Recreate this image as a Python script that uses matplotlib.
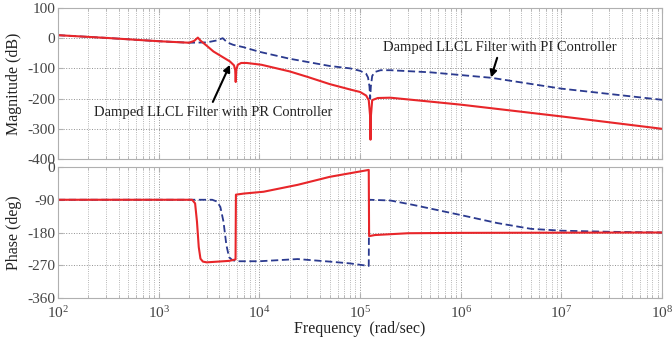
import matplotlib
matplotlib.use("Agg")
import matplotlib.pyplot as plt
from matplotlib.ticker import LogLocator, NullFormatter, MultipleLocator

# Magnitude curves (rad/s, dB)
f_mag_pr = [1e2, 3e2, 1e3, 2e3, 2.25e3, 2.45e3, 2.6e3, 3e3, 3.5e3, 4.2e3, 5.1e3, 5.6e3,
            5.75e3, 5.82e3, 5.9e3, 6.1e3, 6.6e3, 7.5e3, 1.05e4, 2e4, 3e4, 5e4, 8e4, 1e5,
            1.15e5, 1.22e5, 1.26e5, 1.27e5, 1.28e5, 1.32e5, 1.5e5, 2e5, 5e5, 1e6, 1e7, 1e8]
mag_pr = [10, 1, -10, -15, -9, 2, -8, -25, -44, -60, -77, -90,
          -105, -145, -105, -88, -82, -82, -88, -110, -128, -152, -170, -178,
          -190, -205, -260, -336, -260, -205, -198, -197, -210, -220, -259, -300]

f_mag_pi = [1e2, 3e2, 1e3, 2e3, 3e3, 3.7e3, 4.33e3, 4.8e3, 5.5e3, 7e3, 1e4, 2e4, 5e4,
            8e4, 1e5, 1.15e5, 1.2e5, 1.24e5, 1.26e5, 1.28e5, 1.32e5, 1.4e5, 1.6e5,
            2e5, 5e5, 1e6, 2e6, 1e7, 1e8]
mag_pi = [10, 1, -10, -15, -14, -8, 0, -14, -22, -30, -45, -68, -92,
          -100, -108, -118, -130, -160, -200, -160, -125, -112, -106,
          -106, -113, -122, -131, -167, -204]

# Phase curves (rad/s, deg)
f_ph_pr = [1e2, 2.15e3, 2.3e3, 2.4e3, 2.5e3, 2.6e3, 2.75e3, 3e3, 5e3, 5.8e3, 5.85e3,
           7e3, 1.1e4, 2.4e4, 5e4, 1.22e5, 1.23e5, 1.4e5, 3e5, 1e6, 1e8]
ph_pr = [-90, -90, -100, -150, -220, -252, -260, -262, -258, -254, -76,
         -73, -68, -49, -27, -8, -190, -187, -182, -181, -180]

f_ph_pi = [1e2, 3.4e3, 3.8e3, 4.1e3, 4.4e3, 4.7e3, 5e3, 5.4e3, 6e3, 1e4, 2.4e4, 5e4,
           8e4, 1.22e5, 1.23e5, 2e5, 3.35e5, 1e6, 2.3e6, 5e6, 1e7, 3e7, 1e8]
ph_pi = [-90, -90, -95, -110, -150, -214, -248, -256, -259, -259, -253, -260,
         -265, -272, -90, -92, -104, -132, -154, -170, -175, -178, -180]

red = "#e8262a"
blue = "#2b3a8f"

plt.rcParams["font.family"] = ["Liberation Serif", "DejaVu Serif"]
plt.rcParams["mathtext.fontset"] = "custom"
plt.rcParams["mathtext.rm"] = "Liberation Serif"
plt.rcParams["axes.unicode_minus"] = False

fig = plt.figure(figsize=(6.72, 3.43), dpi=100)
ax1 = fig.add_axes([0.0863, 0.5364, 0.899, 0.4403])
ax2 = fig.add_axes([0.0863, 0.1312, 0.899, 0.3819])

ax1.semilogx(f_mag_pi, mag_pi, color=blue, lw=1.3, ls=(0, (4, 2)))
ax1.semilogx(f_mag_pr, mag_pr, color=red, lw=1.5)
ax2.semilogx(f_ph_pi, ph_pi, color=blue, lw=1.3, ls=(0, (4, 2)))
ax2.semilogx(f_ph_pr, ph_pr, color=red, lw=1.5)

ax1.set_ylim(-400, 100)
ax1.yaxis.set_major_locator(MultipleLocator(100))
ax2.set_ylim(-360, 0)
ax2.yaxis.set_major_locator(MultipleLocator(90))

for ax in (ax1, ax2):
    ax.set_xlim(1e2, 1e8)
    ax.xaxis.set_major_locator(LogLocator(base=10, numticks=10))
    ax.xaxis.set_minor_locator(LogLocator(base=10, subs=range(2, 10), numticks=100))
    ax.xaxis.set_minor_formatter(NullFormatter())
    ax.grid(True, which="major", ls=":", color="#909090", lw=0.7)
    ax.grid(True, which="minor", axis="x", ls=":", color="#a0a0a0", lw=0.6)
    for s in ax.spines.values():
        s.set_color("#b0b0b0")
    ax.tick_params(which="both", direction="in", colors="#b0b0b0", labelcolor="#444444",
                   labelsize=11, top=True, right=True, pad=2)
    ax.yaxis.set_label_coords(-0.06, 0.5)

ax1.tick_params(labelbottom=False)
ax2.tick_params(axis="x", pad=5)
ax1.set_ylabel("Magnitude (dB)", fontsize=11.5, color="#222222")
ax2.set_ylabel("Phase (deg)", fontsize=11.5, color="#222222")
ax2.set_xlabel("Frequency  (rad/sec)", fontsize=11.5, color="#222222", labelpad=0)

arrow = dict(arrowstyle="-|>", color="black", lw=1.5, shrinkA=0, shrinkB=0, mutation_scale=10)
ax1.text(2.45e6, -32, "Damped LLCL Filter with PI Controller", ha="center", va="center",
         fontsize=10.5, color="#222222")
ax1.annotate("", xy=(2.0e6, -130), xytext=(2.3e6, -65), arrowprops=arrow)
ax1.text(3.5e3, -247, "Damped LLCL Filter with PR Controller", ha="center", va="center",
         fontsize=10.5, color="#222222")
ax1.annotate("", xy=(5.1e3, -88), xytext=(3.45e3, -211), arrowprops=arrow)

fig.savefig("out.png", dpi=100)
